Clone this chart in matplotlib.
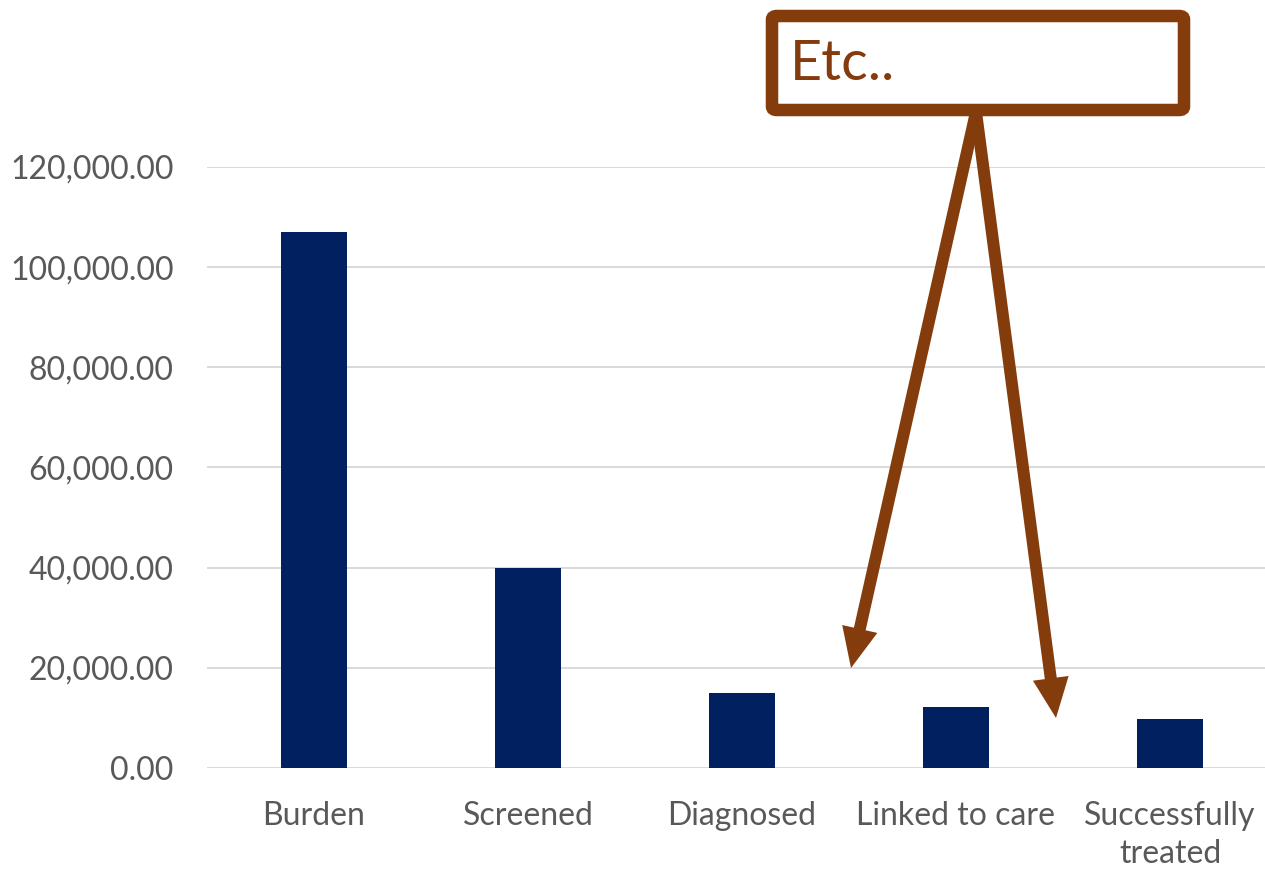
import numpy as np
import matplotlib
matplotlib.use("Agg")
import matplotlib.pyplot as plt
from matplotlib.patches import FancyBboxPatch, Polygon
from matplotlib.lines import Line2D
from matplotlib.ticker import FuncFormatter

plt.rcParams['font.family'] = ['Lato', 'DejaVu Sans']

# Cascade of care
categories = ["Burden", "Screened", "Diagnosed", "Linked to care", "Successfully\ntreated"]
values = [107000, 40000, 15000, 12200, 9800]
yticks = [0, 20000, 40000, 60000, 80000, 100000, 120000]

BAR = "#002060"
BROWN = "#843C0C"
GRID = "#D9D9D9"
TXT = "#595959"

W, H = 1265, 871
fig = plt.figure(figsize=(W / 100, H / 100), dpi=100)
ax = fig.add_axes([207 / W, (H - 768) / H, 1070 / W, (768 - 167) / H])

x = range(len(categories))
ax.bar(x, values, width=0.31, color=BAR, zorder=3)
ax.set_xlim(-0.5, len(categories) - 0.5)
ax.set_ylim(0, 120000)
ax.set_yticks(yticks)
ax.yaxis.set_major_formatter(FuncFormatter(lambda v, p: f"{v:,.2f}"))
ax.set_xticks(list(x))
ax.set_xticklabels(categories, linespacing=1.3)
ax.grid(axis="y", color=GRID, lw=1.4, zorder=0)
ax.grid(axis="x", visible=False)
for s in ax.spines.values():
    s.set_visible(False)
ax.tick_params(axis="y", length=0, pad=24, labelsize=23, labelcolor=TXT)
ax.tick_params(axis="x", length=0, pad=24, labelsize=23, labelcolor=TXT)
for lab in ax.get_yticklabels():
    lab.set_clip_on(False)


def fx(px):
    return px / W


def fy(py):
    return (H - py) / H


# Callout box
box = FancyBboxPatch((fx(772), fy(110)), fx(1184) - fx(772), fy(16) - fy(110),
                     boxstyle="round,pad=0,rounding_size=0.004",
                     transform=fig.transFigure, facecolor="white",
                     edgecolor=BROWN, lw=9, zorder=10)
fig.patches.append(box)
fig.text(fx(790), fy(64), "Etc..", color=BROWN, fontsize=40,
         va="center", ha="left", zorder=11)

# Arrows from the callout (pixel space, y downward)
start = np.array([976.0, 112.0])
head_len, head_w, shaft_w = 40.0, 36.0, 12.0
for tip in [(851.0, 668.0), (1056.0, 718.0)]:
    tip = np.array(tip)
    d = tip - start
    u = d / np.hypot(*d)
    n = np.array([-u[1], u[0]])
    base = tip - u * head_len
    shaft = Line2D([fx(start[0]), fx(base[0] + u[0] * 2)],
                   [fy(start[1]), fy(base[1] + u[1] * 2)],
                   transform=fig.transFigure, color=BROWN,
                   lw=shaft_w * 72 / 100, solid_capstyle="butt", zorder=9)
    fig.lines.append(shaft)
    pts = [tip, base + n * head_w / 2, base - n * head_w / 2]
    head = Polygon([(fx(p[0]), fy(p[1])) for p in pts], closed=True,
                   transform=fig.transFigure, facecolor=BROWN,
                   edgecolor="none", zorder=9)
    fig.patches.append(head)

fig.savefig("out.png", dpi=100, facecolor="white")
